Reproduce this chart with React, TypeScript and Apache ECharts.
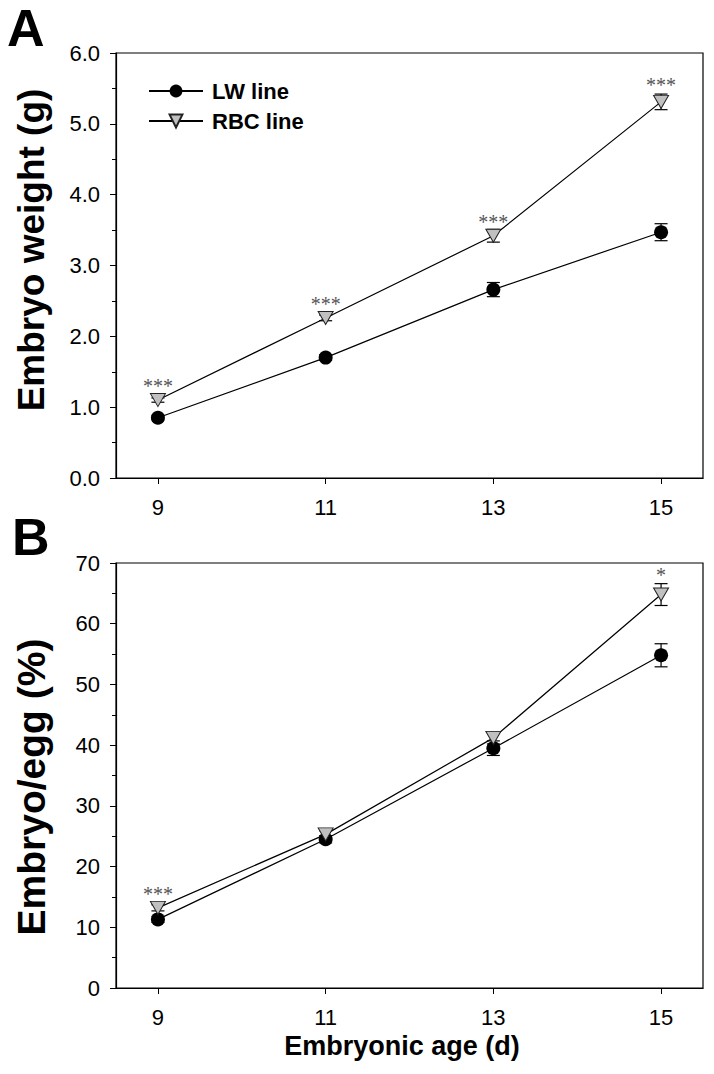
import React, { useEffect, useRef } from 'react';
import * as echarts from 'echarts';

const days = [9, 11, 13, 15];
const xTickLabels = ['9', '11', '13', '15'];

const weightTickLabels = ['0.0', '1.0', '2.0', '3.0', '4.0', '5.0', '6.0'];
const weightLW = [0.85, 1.70, 2.66, 3.47];
const weightLWErr = [0.03, 0.04, 0.10, 0.12];
const weightRBC = [1.10, 2.26, 3.42, 5.31];
const weightRBCErr = [0.03, 0.04, 0.09, 0.11];
const weightSig = ['***', '***', '***', '***'];

const ratioTickLabels = ['0', '10', '20', '30', '40', '50', '60', '70'];
const ratioLW = [11.3, 24.5, 39.5, 54.8];
const ratioLWErr = [0.5, 0.6, 1.2, 1.9];
const ratioRBC = [13.2, 25.3, 41.2, 64.8];
const ratioRBCErr = [0.5, 0.6, 1.0, 1.8];
const ratioSig = ['***', '', '', '*'];

const FONT = 'Liberation Sans, Arial, sans-serif';
const TRI = 'path://M0,0 L14,0 L7,12 Z';

function errorSeries(name: string, grid: number, vals: number[], errs: number[], sig: string[] | null, z: number) {
  return {
    type: 'custom',
    name: name + ' err',
    xAxisIndex: grid,
    yAxisIndex: grid,
    z,
    silent: true,
    encode: { x: 0, y: 1 },
    data: days.map((d, i) => [d, vals[i], errs[i]]),
    renderItem: (params: any, api: any) => {
      const x = api.value(0);
      const y = api.value(1);
      const e = api.value(2);
      const top = api.coord([x, y + e]);
      const bot = api.coord([x, y - e]);
      const mid = api.coord([x, y]);
      const hw = 6.5;
      const st = { stroke: '#000', lineWidth: 1.2 };
      const children: any[] = [
        { type: 'line', shape: { x1: top[0], y1: top[1], x2: bot[0], y2: bot[1] }, style: st },
        { type: 'line', shape: { x1: top[0] - hw, y1: top[1], x2: top[0] + hw, y2: top[1] }, style: st },
        { type: 'line', shape: { x1: bot[0] - hw, y1: bot[1], x2: bot[0] + hw, y2: bot[1] }, style: st },
      ];
      if (sig && sig[params.dataIndex]) {
        const capAbove = top[1] < mid[1] - 7;
        const anchor = capAbove ? top[1] : mid[1] - 7;
        children.push({
          type: 'text',
          x: mid[0],
          y: anchor + (capAbove ? 1 : 3),
          style: {
            text: sig[params.dataIndex],
            fill: '#555',
            font: '20px "Liberation Serif", serif',
            align: 'center',
            verticalAlign: 'bottom',
          },
        });
      }
      return { type: 'group', children };
    },
  };
}

function lineSeries(name: string, grid: number, vals: number[], rbc: boolean) {
  return {
    type: 'line',
    name,
    xAxisIndex: grid,
    yAxisIndex: grid,
    z: 5,
    data: days.map((d, i) => [d, vals[i]]),
    symbol: rbc ? TRI : 'circle',
    symbolSize: rbc ? [15, 13] : 14,
    lineStyle: { color: '#000', width: 1.2 },
    itemStyle: rbc
      ? { color: '#c0c0c0', borderColor: '#222', borderWidth: 1 }
      : { color: '#000', borderColor: '#000', borderWidth: 0 },
    emphasis: { disabled: true },
  };
}

function xAxis(grid: number) {
  return {
    type: 'value',
    gridIndex: grid,
    min: 8.5,
    max: 15.5,
    axisLine: { show: true, onZero: false, lineStyle: { color: '#000', width: 1.2 } },
    axisTick: { show: true, inside: false, length: 6, customValues: days, lineStyle: { color: '#000' } },
    axisLabel: {
      customValues: days,
      formatter: (v: number) => xTickLabels[days.indexOf(v)] ?? '',
      fontFamily: FONT,
      fontSize: 22,
      color: '#000',
      margin: 18,
    },
    splitLine: { show: false },
  };
}

function yAxis(grid: number, max: number, interval: number, labels: string[]) {
  return {
    type: 'value',
    gridIndex: grid,
    min: 0,
    max,
    interval,
    axisLine: { show: true, onZero: false, lineStyle: { color: '#000', width: 1.2 } },
    axisTick: { show: true, inside: false, length: 6, lineStyle: { color: '#000' } },
    minorTick: { show: true, splitNumber: 2, length: 4, lineStyle: { color: '#000' } },
    axisLabel: {
      formatter: (v: number) => labels[Math.round(v / interval)] ?? '',
      fontFamily: FONT,
      fontSize: 22,
      color: '#000',
      margin: 16,
    },
    splitLine: { show: false },
    minorSplitLine: { show: false },
  };
}

export default function App() {
  const ref = useRef<HTMLDivElement>(null);
  useEffect(() => {
    if (!ref.current) return;
    const chart = echarts.init(ref.current, null, { renderer: 'svg' });
    chart.setOption({
      animation: false,
      backgroundColor: '#fff',
      textStyle: { fontFamily: FONT },
      grid: [
        { left: 116, top: 53, width: 587, height: 425, show: true, borderColor: '#000', borderWidth: 1.2, backgroundColor: 'transparent' },
        { left: 116, top: 563, width: 587, height: 425, show: true, borderColor: '#000', borderWidth: 1.2, backgroundColor: 'transparent' },
      ],
      xAxis: [xAxis(0), xAxis(1)],
      yAxis: [yAxis(0, 6, 1, weightTickLabels), yAxis(1, 70, 10, ratioTickLabels)],
      legend: {
        data: ['LW line', 'RBC line'],
        orient: 'vertical',
        left: 143,
        top: 75,
        itemWidth: 54,
        itemHeight: 16,
        itemGap: 8,
        selectedMode: false,
        textStyle: { fontFamily: FONT, fontWeight: 'bold', fontSize: 22, color: '#000', padding: [0, 0, 0, 4] },
      },
      graphic: [
        { type: 'text', left: 7, top: 2, style: { text: 'A', font: 'bold 52px ' + FONT, fill: '#000' } },
        { type: 'text', left: 12, top: 511, style: { text: 'B', font: 'bold 52px ' + FONT, fill: '#000' } },
        {
          type: 'text', x: 31, y: 250, rotation: Math.PI / 2,
          style: { text: 'Embryo weight (g)', font: 'bold 37px ' + FONT, fill: '#000', align: 'center', verticalAlign: 'middle' },
        },
        {
          type: 'text', x: 31, y: 787, rotation: Math.PI / 2,
          style: { text: 'Embryo/egg (%)', font: 'bold 39px ' + FONT, fill: '#000', align: 'center', verticalAlign: 'middle' },
        },
        {
          type: 'text', x: 402, y: 1046,
          style: { text: 'Embryonic age (d)', font: 'bold 27px ' + FONT, fill: '#000', align: 'center', verticalAlign: 'middle' },
        },
      ],
      series: [
        errorSeries('LW line', 0, weightLW, weightLWErr, null, 3),
        errorSeries('RBC line', 0, weightRBC, weightRBCErr, weightSig, 3),
        lineSeries('LW line', 0, weightLW, false),
        lineSeries('RBC line', 0, weightRBC, true),
        errorSeries('LW line', 1, ratioLW, ratioLWErr, null, 3),
        errorSeries('RBC line', 1, ratioRBC, ratioRBCErr, ratioSig, 3),
        lineSeries('LW line', 1, ratioLW, false),
        lineSeries('RBC line', 1, ratioRBC, true),
      ],
    });
    return () => chart.dispose();
  }, []);
  return <div ref={ref} style={{ position: 'absolute', left: 0, top: 0, width: 714, height: 1074 }} />;
}
